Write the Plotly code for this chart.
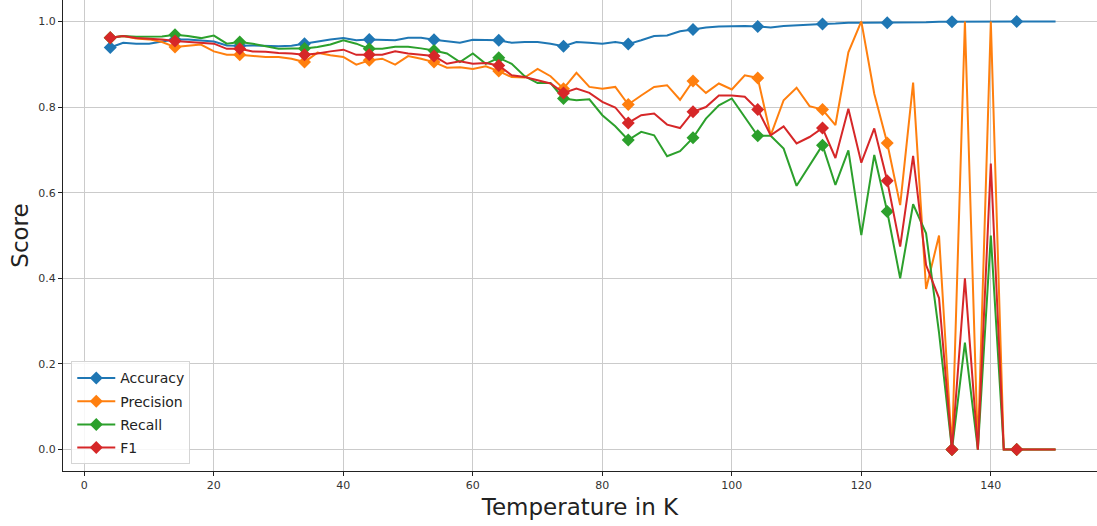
import plotly.graph_objects as go

temperature = [4, 6, 8, 10, 12, 14, 16, 18, 20, 22,
               24, 26, 28, 30, 32, 34, 36, 38, 40, 42,
               44, 46, 48, 50, 52, 54, 56, 58, 60, 62,
               64, 66, 68, 70, 72, 74, 76, 78, 80, 82,
               84, 86, 88, 90, 92, 94, 96, 98, 100, 102,
               104, 106, 108, 110, 112, 114, 116, 118, 120, 122,
               124, 126, 128, 130, 132, 134, 136, 138, 140, 142,
               144, 146, 148, 150]

accuracy = [0.939, 0.950, 0.948, 0.948, 0.953, 0.958, 0.958, 0.956, 0.953, 0.944,
            0.943, 0.944, 0.943, 0.942, 0.943, 0.948, 0.953, 0.958, 0.961, 0.956,
            0.958, 0.957, 0.956, 0.962, 0.962, 0.957, 0.953, 0.950, 0.957, 0.956,
            0.956, 0.950, 0.952, 0.952, 0.948, 0.942, 0.952, 0.950, 0.948, 0.952,
            0.947, 0.956, 0.966, 0.967, 0.977, 0.981, 0.986, 0.988, 0.989, 0.989,
            0.988, 0.986, 0.989, 0.991, 0.993, 0.994, 0.995, 0.997, 0.997, 0.997,
            0.997, 0.998, 0.998, 0.998, 0.999, 0.999, 0.999, 1.0, 1.0, 1.0,
            1.0, 1.0, 1.0, 1.0]

precision = [0.962, 0.966, 0.960, 0.958, 0.952, 0.940, 0.943, 0.946, 0.930, 0.922,
             0.922, 0.919, 0.917, 0.917, 0.913, 0.905, 0.927, 0.921, 0.917, 0.899,
             0.909, 0.913, 0.899, 0.919, 0.913, 0.905, 0.892, 0.893, 0.889, 0.895,
             0.884, 0.870, 0.869, 0.889, 0.872, 0.843, 0.880, 0.847, 0.843, 0.847,
             0.806, 0.827, 0.847, 0.851, 0.817, 0.861, 0.833, 0.855, 0.841, 0.874,
             0.868, 0.734, 0.816, 0.845, 0.802, 0.794, 0.758, 0.928, 1.0, 0.831,
             0.716, 0.571, 0.857, 0.375, 0.500, 0.0, 1.0, 0.0, 1.0, 0.0,
             0.0, 0.0, 0.0, 0.0]

recall = [0.962, 0.966, 0.964, 0.964, 0.965, 0.969, 0.966, 0.961, 0.967, 0.948,
          0.952, 0.948, 0.942, 0.936, 0.937, 0.937, 0.940, 0.946, 0.956, 0.948,
          0.936, 0.936, 0.941, 0.941, 0.937, 0.932, 0.925, 0.905, 0.925, 0.901,
          0.915, 0.901, 0.872, 0.856, 0.856, 0.820, 0.816, 0.818, 0.781, 0.755,
          0.723, 0.742, 0.734, 0.685, 0.697, 0.728, 0.773, 0.804, 0.820, 0.777,
          0.733, 0.733, 0.703, 0.616, 0.664, 0.711, 0.618, 0.699, 0.501, 0.688,
          0.556, 0.400, 0.573, 0.505, 0.273, 0.0, 0.250, 0.0, 0.500, 0.0,
          0.0, 0.0, 0.0, 0.0]

f1 = [0.962, 0.966, 0.961, 0.960, 0.958, 0.954, 0.952, 0.950, 0.948, 0.936,
      0.936, 0.930, 0.929, 0.926, 0.925, 0.922, 0.925, 0.930, 0.934, 0.922,
      0.922, 0.922, 0.930, 0.925, 0.922, 0.919, 0.901, 0.907, 0.901, 0.903,
      0.897, 0.874, 0.870, 0.862, 0.855, 0.833, 0.843, 0.833, 0.812, 0.799,
      0.763, 0.781, 0.785, 0.759, 0.751, 0.789, 0.800, 0.827, 0.827, 0.824,
      0.794, 0.734, 0.755, 0.715, 0.730, 0.751, 0.681, 0.796, 0.670, 0.750,
      0.628, 0.474, 0.686, 0.431, 0.354, 0.0, 0.400, 0.0, 0.668, 0.0,
      0.0, 0.0, 0.0, 0.0]

series_names = ["Accuracy", "Precision", "Recall", "F1"]
series_values = [accuracy, precision, recall, f1]
series_colors = ["#1f77b4", "#ff7f0e", "#2ca02c", "#d62728"]

x_ticks = [0, 20, 40, 60, 80, 100, 120, 140]
y_ticks = [0.0, 0.2, 0.4, 0.6, 0.8, 1.0]

MARK_EVERY = 5
MARKER_SIZE = 10

fig = go.Figure()
for name, vals, color in zip(series_names, series_values, series_colors):
    sizes = [MARKER_SIZE if i % MARK_EVERY == 0 else 0 for i in range(len(temperature))]
    fig.add_trace(go.Scatter(
        x=temperature, y=vals, mode="lines+markers", name=name,
        legendgroup=name, showlegend=False,
        line=dict(color=color, width=2),
        marker=dict(symbol="diamond", size=sizes, color=color, opacity=1,
                    line=dict(width=0)),
    ))
# legend entries (line with a diamond marker, as in the reference)
for name, color in zip(series_names, series_colors):
    fig.add_trace(go.Scatter(
        x=[None], y=[None], mode="lines+markers", name=name,
        legendgroup=name, showlegend=True,
        line=dict(color=color, width=2),
        marker=dict(symbol="diamond", size=MARKER_SIZE, color=color, opacity=1,
                    line=dict(width=0)),
    ))

axis_common = dict(
    showgrid=True, gridcolor="#cbcbcb", gridwidth=1,
    showline=True, linecolor="#222222", linewidth=1,
    ticks="outside", ticklen=4, tickcolor="#222222", tickwidth=1,
    zeroline=False, mirror=False,
    tickfont=dict(family="DejaVu Sans", size=11, color="#333333"),
)

fig.update_layout(
    width=1097, height=526,
    margin=dict(l=63, r=0, t=0, b=55),
    plot_bgcolor="white", paper_bgcolor="white",
    font=dict(family="DejaVu Sans", color="#222222"),
    xaxis=dict(range=[-3.3, 156.4], tickvals=x_ticks,
               title=dict(text="Temperature in K", font=dict(size=23), standoff=7),
               **axis_common),
    yaxis=dict(range=[-0.05, 1.05], tickvals=y_ticks, tickformat=".1f",
               title=dict(text="Score", font=dict(size=23), standoff=3),
               **axis_common),
    legend=dict(x=0.008, y=0.014, xanchor="left", yanchor="bottom",
                bordercolor="#d5d5d5", borderwidth=1, bgcolor="rgba(255,255,255,0.85)",
                font=dict(size=14, color="#222222"),
                itemwidth=38, tracegroupgap=2),
    showlegend=True,
)

fig.write_html("out.html")
